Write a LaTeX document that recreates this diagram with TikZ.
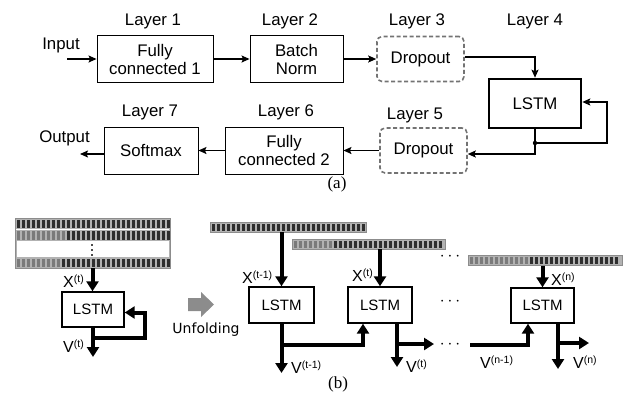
\documentclass[tikz,border=0pt]{standalone}
\usepackage{fontspec}
\setmainfont{Liberation Sans}
\newfontfamily\serifx{Liberation Serif}
\newfontfamily\dejavu{DejaVu Sans}
\usetikzlibrary{arrows.meta,calc}
\newcommand{\sups}[1]{\raisebox{5pt}{\fontsize{10.5}{12}\selectfont #1}}
\newcommand{\cellrow}[5]{%
  \foreach \i in {1,...,#4}{%
    \pgfmathtruncatemacro{\shd}{\i<=#5 ? 52 : 82}%
    \fill[black!\shd] ($(#1.north west)+({1.5+(\i-1)*5},#2)$) rectangle ++(3.6,#3);
  }}
\begin{document}
\begin{tikzpicture}[x=1pt,y=-1pt,
  lbl/.style={font=\fontsize{16.8}{18}\selectfont, inner sep=0pt},
  box/.style={draw, line width=0.9pt, align=center, font=\fontsize{16.8}{18}\selectfont, inner sep=0pt},
  dbox/.style={box, draw=black!55, dash pattern=on 4pt off 2.5pt, line width=1.6pt, rounded corners=5pt},
  conn/.style={line width=1.3pt, -{Stealth[length=8pt,width=7pt,inset=1.5pt]}},
  lbox/.style={draw, line width=1.4pt, align=center, font=\fontsize{15}{17}\selectfont, inner sep=0pt},
  barrow/.style={line width=4pt, -{Triangle[length=10pt,width=12pt]}},
  bline/.style={line width=4pt},
  vlab/.style={font=\fontsize{16}{18}\selectfont, inner sep=0pt, anchor=base west},
  stripbg/.style={fill=black!30, draw=black!45, line width=0.6pt, inner sep=0pt, outer sep=0pt},
  dotsn/.style={font=\fontsize{16}{18}\selectfont, inner sep=0pt}
]
\useasboundingbox (0,0) rectangle (624,399);

% ---------- (a) ----------
\node[box, minimum width=116pt, minimum height=47pt] (fc1) at (155,59) {Fully\\connected 1};
\node[box, minimum width=93pt, minimum height=47pt] (bn) at (296.5,59) {Batch\\Norm};
\node[dbox, minimum width=87pt, minimum height=45pt] (do3) at (420.5,59) {Dropout};
\node[box, line width=2.6pt, minimum width=92pt, minimum height=49pt] (lstm4) at (535,103.5) {LSTM};
\node[dbox, minimum width=87pt, minimum height=45pt] (do5) at (423.5,150.5) {Dropout};
\node[box, minimum width=118pt, minimum height=47pt] (fc2) at (284,150.5) {Fully\\connected 2};
\node[box, minimum width=94pt, minimum height=47pt] (sm) at (151,150.5) {Softmax};

\node[lbl] (l1) at (153,21) {Layer 1};
\node[lbl] (l2) at (290,21) {Layer 2};
\node[lbl] (l3) at (417,21) {Layer 3};
\node[lbl] (l4) at (535,21) {Layer 4};
\node[lbl] (l5) at (415,115) {Layer 5};
\node[lbl] (l6) at (286,112.5) {Layer 6};
\node[lbl] (l7) at (150,112.5) {Layer 7};
\node[lbl] (inp) at (61,45) {Input};
\node[lbl] (outp) at (64.5,138.5) {Output};

\coordinate (inS) at (67,59);
\draw[conn] (inS) -- (fc1.west);
\draw[conn] (fc1) -- (bn);
\draw[conn] (bn) -- (do3);
\draw[conn] ([yshift=2pt]do3.east) -| (lstm4.north);
\coordinate (jn) at (535,143);
\coordinate (fbc) at (607,143);
\draw[line width=1.3pt] (lstm4.south) -- (jn);
\draw[conn] (jn) |- ([yshift=-3.5pt]do5.east);
\draw[conn] (jn) -- (fbc) |- ([yshift=1.5pt]lstm4.east);
\fill (jn) circle (2.2pt);
\draw[conn] (do5) -- (fc2);
\draw[conn] (fc2) -- (sm);
\coordinate (outE) at (80,154);
\draw[conn] ([yshift=-3.5pt]sm.west) -- (outE);

\node[font=\serifx\fontsize{17}{19}\selectfont, inner sep=0pt] (capa) at (337,184) {(a)};

% ---------- (b) left ----------
\node[stripbg, minimum width=155pt, minimum height=50pt] (blk) at (92.5,243) {};
\cellrow{blk}{1.5}{8.5}{31}{0}
\fill[white] ($(blk.north west)+(1,10.5)$) rectangle ++(153,1.2);
\cellrow{blk}{12.5}{9.5}{31}{10}
\fill[white] ($(blk.north west)+(1.5,23)$) rectangle ++(152,16);
\cellrow{blk}{40.5}{8.5}{31}{9}
\foreach \yy in {244,249,254}{\fill[black!70] (91.2,\yy) rectangle ++(1.8,1.8);}

\node[lbox, minimum width=62pt, minimum height=35pt] (lstm0) at (93,309.5) {LSTM};
\draw[barrow] (blk.south) -- (blk.south |- lstm0.north);
\coordinate (v0) at (93,357);
\coordinate (b0) at (93,338);
\coordinate (fb0) at (145,338);
\draw[barrow] (lstm0.south) -- (v0);
\draw[barrow] (b0) -- (fb0) |- ([yshift=-3pt]lstm0.east);
\node[vlab] (x0) at (63,287) {X\sups{(t)}};
\node[vlab] (y0) at (63,352) {V\sups{(t)}};

% unfolding arrow
\fill[black!45] (188,298) -- (201,298) -- (201,292) -- (214,304.5) -- (201,317) -- (201,311) -- (188,311) -- cycle;
\node[font=\dejavu\fontsize{14}{16}\selectfont, inner sep=0pt, anchor=base] (unf) at (206,333) {Unfolding};

% ---------- (b) right ----------
\node[stripbg, minimum width=156pt, minimum height=10pt] (s1) at (288,227) {};
\cellrow{s1}{1.5}{7}{31}{0}
\node[stripbg, minimum width=153pt, minimum height=10pt] (s2) at (368.5,244) {};
\cellrow{s2}{1.5}{7}{30}{8}
\node[stripbg, minimum width=154pt, minimum height=10pt] (s3) at (545,260.5) {};
\cellrow{s3}{1.5}{7}{30}{12}

\node[lbox, minimum width=65pt, minimum height=36pt] (lstm1) at (281.5,305) {LSTM};
\node[lbox, minimum width=64pt, minimum height=36pt] (lstm2) at (380,305) {LSTM};
\node[lbox, minimum width=63pt, minimum height=35pt] (lstm3) at (542.5,305.5) {LSTM};

\draw[barrow] (s1.south -| lstm1.north) -- (lstm1.north);
\draw[barrow] (s2.south -| lstm2.north) -- (lstm2.north);
\draw[barrow] (s3.south -| lstm3.north) -- (lstm3.north);

\coordinate (v1) at (281.5,373);
\coordinate (b1) at (281.5,345);
\coordinate (c1) at (363,345);
\draw[barrow] (lstm1.south) -- (v1);
\draw[barrow] (b1) -- (c1) -- (c1 |- lstm2.south);

\coordinate (v2) at (397,367);
\coordinate (b2) at (397,344);
\coordinate (r2) at (434,344);
\draw[barrow] (v2 |- lstm2.south) -- (v2);
\draw[barrow] (b2) -- (r2);

\coordinate (c3a) at (470,345);
\coordinate (c3b) at (528,345);
\draw[barrow] (c3a) -- (c3b) -- (c3b |- lstm3.south);

\coordinate (v3) at (558,369);
\coordinate (b3) at (558,343);
\coordinate (r3) at (589,343);
\draw[barrow] (v3 |- lstm3.south) -- (v3);
\draw[barrow] (b3) -- (r3);

\node[dotsn] (dt1) at (450,257) {$\cdots$};
\node[dotsn] (dt2) at (450,302) {$\cdots$};
\node[dotsn] (dt3) at (450,345) {$\cdots$};

\node[vlab] (x1) at (242,283) {X\sups{(t-1)}};
\node[vlab] (y1) at (291,373) {V\sups{(t-1)}};
\node[vlab] (x2) at (352,281) {X\sups{(t)}};
\node[vlab] (y2) at (406,372) {V\sups{(t)}};
\node[vlab] (y3a) at (480,368) {V\sups{(n-1)}};
\node[vlab] (x3) at (551,285) {X\sups{(n)}};
\node[vlab] (y3) at (573,368) {V\sups{(n)}};

\node[font=\serifx\fontsize{17}{19}\selectfont, inner sep=0pt] (capb) at (338,384) {(b)};
\end{tikzpicture}
\end{document}
